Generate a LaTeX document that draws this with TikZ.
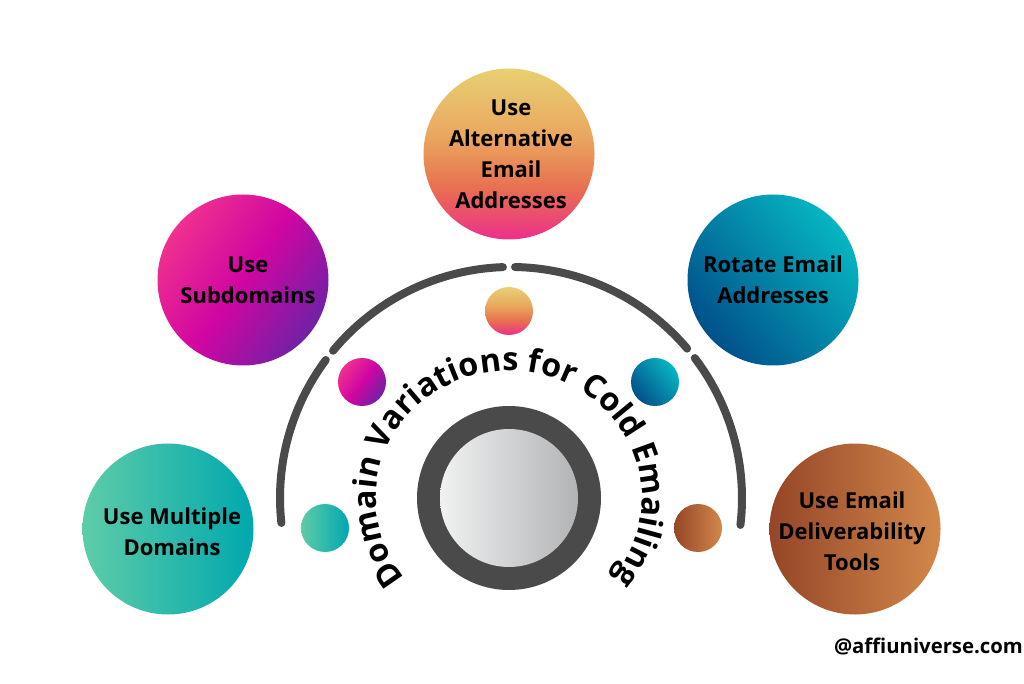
\documentclass[tikz,border=0pt]{standalone}
\usepackage{fontspec}
\setmainfont{Open Sans}
\usetikzlibrary{decorations.text}
\definecolor{cGoldA}{HTML}{E8D072}
\definecolor{cGoldB}{HTML}{E9A65E}
\definecolor{cGoldD}{HTML}{E86F50}
\definecolor{cGoldC}{HTML}{EC2F8C}
\definecolor{cMagA}{HTML}{F0308F}
\definecolor{cMagM}{HTML}{D005A2}
\definecolor{cMagB}{HTML}{6F22A5}
\definecolor{cBlueA}{HTML}{01508A}
\definecolor{cBlueB}{HTML}{06B6C2}
\definecolor{cTealA}{HTML}{5ECCA8}
\definecolor{cTealB}{HTML}{00A8AE}
\definecolor{cBrownA}{HTML}{954628}
\definecolor{cBrownB}{HTML}{D2884A}
\definecolor{cDark}{HTML}{4A4A4A}
\definecolor{cSilA}{HTML}{F0F1F1}
\definecolor{cSilB}{HTML}{B2B3B5}
\pgfdeclareverticalshading{goldshade}{100bp}{color(0bp)=(cGoldC); color(25bp)=(cGoldC); color(40bp)=(cGoldD); color(55bp)=(cGoldB); color(75bp)=(cGoldA); color(100bp)=(cGoldA)}
\tikzset{
  x=1pt,y=1pt,
  bigc/.style={circle,minimum size=171pt,inner sep=0pt},
  lbl/.style={inner sep=0pt,align=center,text=black,font=\fontsize{22}{31}\selectfont\bfseries},
  smallc/.style={circle,minimum size=48pt,inner sep=0pt},
  gold/.style={shading=goldshade},
  magenta/.style={shade,left color=cMagA,right color=cMagB,middle color=cMagM,shading angle=55},
  bluegrad/.style={shade,left color=cBlueA,right color=cBlueB,shading angle=130},
  tealgrad/.style={shade,left color=cTealA,right color=cTealB},
  browngrad/.style={shade,left color=cBrownA,right color=cBrownB},
  barc/.style={draw=cDark,line width=8pt,line cap=round},
}
\begin{document}
\begin{tikzpicture}
\useasboundingbox (0,0) rectangle (1024,683);
\fill[white] (0,0) rectangle (1024,683);
\coordinate (c) at (511,185);
% arcs
\draw[barc] (c) ++(186.2:231) arc[start angle=186.2,end angle=143.3,radius=231];
\draw[barc] (c) ++(140.4:231) arc[start angle=140.4,end angle=92,radius=231];
\draw[barc] (c) ++(89:231) arc[start angle=89,end angle=40.3,radius=231];
\draw[barc] (c) ++(37.3:231) arc[start angle=37.3,end angle=-6.7,radius=231];
% big circles
\node[bigc,gold] (top) at (509,529) {};
\node[lbl] (topL) at ([shift={(2,-0.5)}]top.center) {Use\\Alternative\\Email\\Addresses};
\node[bigc,magenta] (sub) at (243,403) {};
\node[lbl] (subL) at ([shift={(5,0)}]sub.center) {Use\\Subdomains};
\node[bigc,bluegrad] (rot) at (773,403) {};
\node[lbl] (rotL) at (rot.center) {Rotate Email\\Addresses};
\node[bigc,tealgrad] (mul) at (168,154) {};
\node[lbl] (mulL) at ([shift={(4,-3)}]mul.center) {Use Multiple\\Domains};
\node[bigc,browngrad] (del) at (855,154) {};
\node[lbl] (delL) at ([shift={(-3,-2.5)}]del.center) {Use Email\\Deliverability\\Tools};
% small circles
\node[smallc,gold] (s1) at (509,372) {};
\node[smallc,magenta] (s2) at (362,301) {};
\node[smallc,bluegrad] (s3) at (655,301) {};
\node[smallc,tealgrad] (s4) at (325,155) {};
\node[smallc,browngrad] (s5) at (698,155) {};
% hub
\node[circle,minimum size=184pt,inner sep=0pt,fill=cDark] (ring) at (509,185) {};
\node[circle,minimum size=138pt,inner sep=0pt,shade,left color=cSilA,right color=cSilB] (hub) at (509,185) {};
% curved title
\path[decorate,decoration={text along path,text align=center,
  text={|\fontsize{32.3}{32.3}\selectfont\bfseries|Domain Variations for Cold Emailing}}]
  (509,185) ++(240:133 and 127) arc[start angle=240,end angle=-60,x radius=133,y radius=127];
% handle
\node[anchor=base east,inner sep=0pt,font=\fontsize{20.3}{22}\selectfont\bfseries] (h) at (1023,30) {@affiuniverse.com};
\end{tikzpicture}
\end{document}
